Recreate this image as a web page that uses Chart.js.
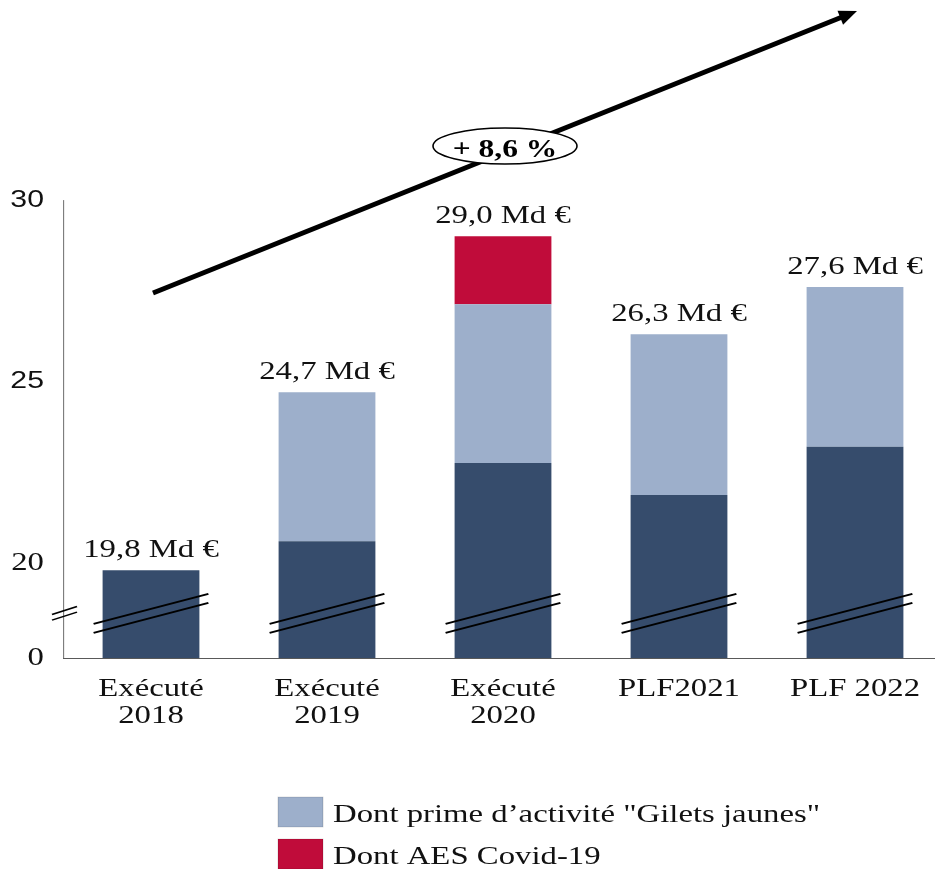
<!DOCTYPE html>
<html lang="fr">
<head>
<meta charset="utf-8">
<title>Prime d'activité — dépenses</title>
<script src="https://cdn.jsdelivr.net/npm/chart.js@4.4.1/dist/chart.umd.min.js"></script>
<style>
  html, body { margin: 0; padding: 0; background: #fff; overflow: hidden; }
  #wrap { width: 935px; height: 869px; overflow: hidden; }
  canvas { display: block; }
</style>
</head>
<body>
<div id="wrap"><canvas id="chart"></canvas></div>
<script>
// ---- Données (Md €) ----
const categories = [['Exécuté', '2018'], ['Exécuté', '2019'], ['Exécuté', '2020'], 'PLF2021', 'PLF 2022'];
const totals = [19.8, 24.7, 29.0, 26.3, 27.6];
const baseSpend = [19.8, 20.6, 22.75, 21.87, 23.2];
const primeGiletsJaunes = [0, 4.1, 4.38, 4.43, 4.4];
const aesCovid = [0, 0, 1.87, 0, 0];
const growthLabel = '+ 8,6 %';

// Axe vertical coupé : le bas de l'axe représente 0
const AXIS_FLOOR = 17.38;
const AXIS_MAX = 30;
const yTickValues = [AXIS_FLOOR, 20, 25, 30];
const yTickLabels = ['0', '20', '25', '30'];

// ---- Style ----
const SERIF = '"Liberation Serif", "Times New Roman", serif';
const SANS = '"Liberation Sans", Arial, sans-serif';
const COLORS = { base: '#364C6C', prime: '#9DAFCB', aes: '#C00C3A', text: '#111111', axis: '#595959' };
const STRETCH = 1.26;                 // composition étirée en largeur
const PAGE_W = 945, PAGE_H = 869;     // taille affichée
const L = (px) => px / STRETCH;       // largeur affichée -> unité de dessin

const canvas = document.getElementById('chart');
canvas.width = Math.round(L(PAGE_W));
canvas.height = PAGE_H;

const stretchPlugin = {
  id: 'stretch',
  beforeDraw(chart) {
    const c = chart.canvas;
    const w = Math.round(chart.width * STRETCH);
    if (c.width !== w) {
      c.width = w;
      c.height = chart.height;
      c.style.width = w + 'px';
      c.style.height = chart.height + 'px';
    }
    chart.ctx.setTransform(STRETCH, 0, 0, 1, 0, 0);
  }
};

const overlayPlugin = {
  id: 'overlay',
  afterDraw(chart) {
    const ctx = chart.ctx;
    const y = chart.scales.y;
    const area = chart.chartArea;
    const bars = chart.getDatasetMeta(0).data;
    const bottom = area.bottom;
    const cy = bottom - 0.47 * (bottom - y.getPixelForValue(20));

    ctx.save();
    // montants au-dessus des barres
    ctx.font = '26px ' + SERIF;
    ctx.fillStyle = COLORS.text;
    ctx.textAlign = 'center';
    ctx.textBaseline = 'alphabetic';
    totals.forEach((t, i) => {
      ctx.fillText(t.toFixed(1).replace('.', ',') + ' Md €', bars[i].x, y.getPixelForValue(t) - 13.5);
    });

    // marques de coupure sur les barres
    ctx.strokeStyle = '#000';
    ctx.lineWidth = 1.8;
    bars.forEach(b => {
      const half = b.width / 2 + L(9);
      [-4.5, 4.5].forEach(off => {
        ctx.beginPath();
        ctx.moveTo(b.x - half, cy + off + 15);
        ctx.lineTo(b.x + half, cy + off - 15);
        ctx.stroke();
      });
    });
    // marque de coupure sur l'axe
    ctx.lineWidth = 1.5;
    [-2.8, 2.8].forEach(off => {
      const ax = area.left + L(1.5);
      ctx.beginPath();
      ctx.moveTo(ax - L(12.5), cy + off + 4);
      ctx.lineTo(ax + L(12.5), cy + off - 4);
      ctx.stroke();
    });

    // légende
    const legendItems = [1, 2].map(i => chart.data.datasets[i]);
    ctx.textAlign = 'left';
    legendItems.forEach((ds, k) => {
      const top = 797 + k * 42;
      ctx.fillStyle = ds.backgroundColor;
      ctx.fillRect(L(278), top, L(45), 30);
      ctx.strokeStyle = 'rgba(0,0,0,0.15)';
      ctx.lineWidth = 0.8;
      ctx.strokeRect(L(278), top, L(45), 30);
      ctx.fillStyle = COLORS.text;
      ctx.fillText(ds.label, L(333), top + 24.5);
    });
    ctx.restore();

    // flèche de tendance et pastille (dessinées à l'échelle de l'écran)
    ctx.save();
    ctx.setTransform(1, 0, 0, 1, 0, 0);
    const x0 = bars[0].x * STRETCH + 2, y0 = 293;
    const x1 = bars[4].x * STRETCH + 2, y1 = 11;
    const len = Math.hypot(x1 - x0, y1 - y0);
    const ux = (x1 - x0) / len, uy = (y1 - y0) / len;
    const headLen = 18, headHalf = 7.5;
    ctx.strokeStyle = '#000';
    ctx.lineWidth = 5;
    ctx.beginPath();
    ctx.moveTo(x0, y0);
    ctx.lineTo(x1 - ux * (headLen - 2), y1 - uy * (headLen - 2));
    ctx.stroke();
    ctx.fillStyle = '#000';
    ctx.beginPath();
    ctx.moveTo(x1, y1);
    ctx.lineTo(x1 - ux * headLen - uy * headHalf, y1 - uy * headLen + ux * headHalf);
    ctx.lineTo(x1 - ux * headLen + uy * headHalf, y1 - uy * headLen - ux * headHalf);
    ctx.closePath();
    ctx.fill();

    const ex = bars[2].x * STRETCH + 2, ey = 146;
    ctx.beginPath();
    ctx.ellipse(ex, ey, 72, 18, 0, 0, Math.PI * 2);
    ctx.fillStyle = '#fff';
    ctx.fill();
    ctx.lineWidth = 1.6;
    ctx.stroke();
    ctx.restore();

    ctx.save();
    ctx.font = 'bold 25px ' + SERIF;
    ctx.fillStyle = '#000';
    ctx.textAlign = 'center';
    ctx.textBaseline = 'alphabetic';
    ctx.fillText(growthLabel, bars[2].x + L(2), 157);
    ctx.restore();
  }
};

new Chart(canvas, {
  type: 'bar',
  data: {
    labels: categories,
    datasets: [
      { label: 'Socle', data: baseSpend, backgroundColor: COLORS.base, base: AXIS_FLOOR },
      { label: 'Dont prime d’activité "Gilets jaunes"', data: primeGiletsJaunes, backgroundColor: COLORS.prime },
      { label: 'Dont AES Covid-19', data: aesCovid, backgroundColor: COLORS.aes }
    ]
  },
  options: {
    responsive: false,
    animation: false,
    devicePixelRatio: 1,
    barPercentage: 0.55,
    categoryPercentage: 1.0,
    layout: { padding: { top: 200, right: L(PAGE_W) - L(943), left: 0, bottom: 0 } },
    plugins: { legend: { display: false }, tooltip: { enabled: false } },
    scales: {
      x: {
        stacked: true,
        grid: { display: false, drawTicks: false },
        border: { display: true, color: COLORS.axis, width: 1 },
        ticks: {
          color: COLORS.text,
          font: { family: SERIF, size: 26, lineHeight: 1.06 },
          padding: 17,
          maxRotation: 0,
          autoSkip: false
        },
        afterFit(scale) { scale.height = 211; }
      },
      y: {
        stacked: true,
        min: AXIS_FLOOR,
        max: AXIS_MAX,
        grid: { display: false, drawTicks: false },
        border: { display: true, color: COLORS.axis, width: 1 / STRETCH },
        afterBuildTicks(scale) { scale.ticks = yTickValues.map(v => ({ value: v })); },
        ticks: {
          color: COLORS.text,
          padding: L(19),
          callback: (value) => yTickLabels[yTickValues.indexOf(value)],
          font: (c) => (c.tick && c.tick.value >= 25
            ? { family: SANS, size: 24 }
            : { family: SERIF, size: 26 })
        },
        afterFit(scale) { scale.width = L(63); }
      }
    }
  },
  plugins: [stretchPlugin, overlayPlugin]
});
</script>
</body>
</html>
